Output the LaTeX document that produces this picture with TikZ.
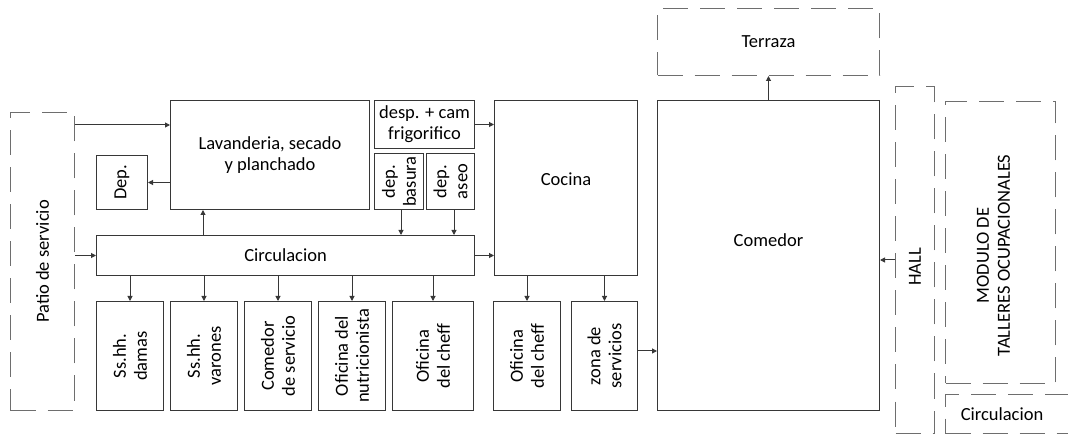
\documentclass[tikz,border=0pt]{standalone}
\usepackage{fontspec}
\setmainfont{Carlito}
\usepackage{tikz}
\usetikzlibrary{arrows.meta, positioning}
\definecolor{linecolor}{RGB}{55,55,55}
\definecolor{dashcolor}{RGB}{110,110,110}
\newcommand{\roomfont}{\fontsize{18.5}{21}\selectfont}
\tikzset{
  room/.style={draw=linecolor, line width=1pt, anchor=north west,
               inner sep=0pt, align=center, font=\roomfont},
  zone/.style={room, draw=dashcolor, dash pattern=on 25pt off 12pt},
  vtext/.style={rotate=90, align=center, font=\roomfont},
  htext/.style={align=center, font=\roomfont},
  arrow/.style={-{Triangle[length=5pt,width=5pt]}, line width=1pt,
                draw=linecolor},
}

\begin{document}
\begin{tikzpicture}[x=1pt, y=-1pt]
  \useasboundingbox (0,0) rectangle (1068,435);

  % --- Service side ---
  \node[zone, minimum width=64pt, minimum height=298pt,
        label={[vtext]center:Patio de servicio}]
    (patio) at (10,112) {};
  \node[room, minimum width=199pt, minimum height=109pt]
    (lav) at (170,100) {Lavanderia, secado\\y planchado};
  \node[room, minimum width=51pt, minimum height=54pt,
        label={[vtext]center:Dep.}]
    (dep) at (96,155) {};
  \node[room, minimum width=378pt, minimum height=40pt]
    (circ) at (96,235) {Circulacion};

  % --- Deposits ---
  \node[room, minimum width=100pt, minimum height=48pt]
    (desp) at (374,100) {desp. + cam\\frigorifico};
  \node[room, minimum width=49pt, minimum height=56pt,
        label={[vtext]center:dep.\\basura}]
    (basura) at (374,153) {};
  \node[room, minimum width=48pt, minimum height=56pt,
        label={[vtext]center:dep.\\aseo}]
    (aseo) at (426,153) {};

  % --- Bottom row ---
  \node[room, minimum width=67pt, minimum height=109pt,
        label={[vtext]center:Ss.hh.\\damas}]
    (damas) at (96,301) {};
  \node[room, minimum width=67pt, minimum height=109pt,
        label={[vtext]center:Ss.hh.\\varones}]
    (varones) at (170,301) {};
  \node[room, minimum width=67pt, minimum height=109pt,
        label={[vtext]center:Comedor\\de servicio}]
    (comserv) at (244,301) {};
  \node[room, minimum width=67pt, minimum height=109pt,
        label={[vtext]center:Oficina del\\nutricionista}]
    (nutri) at (318,301) {};
  \node[room, minimum width=81pt, minimum height=109pt,
        label={[vtext]center:Oficina\\del cheff}]
    (cheff) at (392,301) {};

  % --- Kitchen ---
  \node[room, minimum width=143pt, minimum height=175pt,
        label={[htext, yshift=9pt]center:Cocina}]
    (cocina) at (494,100) {};
  \node[room, minimum width=67pt, minimum height=109pt,
        label={[vtext]center:Oficina\\del cheff}]
    (cheffb) at (493,301) {};
  \node[room, minimum width=66pt, minimum height=109pt,
        label={[vtext]center:zona de\\servicios}]
    (zona) at (571,301) {};

  % --- Dining ---
  \node[room, minimum width=222pt, minimum height=310pt,
        label={[htext, yshift=15pt]center:Comedor}]
    (comedor) at (657,100) {};
  \node[zone, minimum width=222pt, minimum height=67pt]
    (terraza) at (657,8) {Terraza};

  % --- Right side ---
  \node[zone, minimum width=39pt, minimum height=347pt,
        label={[vtext, xshift=-7pt]center:HALL}]
    (hall) at (895,86) {};
  \node[zone, minimum width=110pt, minimum height=282pt,
        label={[vtext, xshift=-13pt, yshift=7pt]center:MODULO DE\\TALLERES OCUPACIONALES}]
    (talleres) at (945,101) {};
  \node[zone, minimum width=135pt, minimum height=39pt,
        label={[htext, xshift=-11pt]center:Circulacion}]
    (circb) at (945,394) {};

  % --- Arrows ---
  \draw[arrow] (patio.east |- 0,125) -- (lav.west |- 0,125);
  \draw[arrow] (patio.east |- circ.west) -- (circ.west);
  \draw[arrow] (lav.west |- dep.east) -- (dep.east);
  \draw[arrow] (circ.north -| 203,0) -- (lav.south -| 203,0);
  \draw[arrow] (basura.south -| 401,0) -- (circ.north -| 401,0);
  \draw[arrow] (aseo.south -| 454,0) -- (circ.north -| 454,0);
  \draw[arrow] (desp.east) -- (cocina.west |- desp.east);
  \draw[arrow] (circ.east) -- (cocina.west |- circ.east);

  \draw[arrow] (circ.south -| damas.north) -- (damas.north);
  \draw[arrow] (circ.south -| varones.north) -- (varones.north);
  \draw[arrow] (circ.south -| comserv.north) -- (comserv.north);
  \draw[arrow] (circ.south -| nutri.north) -- (nutri.north);
  \draw[arrow] (circ.south -| cheff.north) -- (cheff.north);
  \draw[arrow] (cocina.south -| cheffb.north) -- (cheffb.north);
  \draw[arrow] (cocina.south -| zona.north) -- (zona.north);

  \draw[arrow] (zona.east |- 0,351) -- (comedor.west |- 0,351);
  \draw[arrow] (comedor.north) -- (terraza.south);
  \draw[arrow] (hall.west) -- (comedor.east |- hall.west);

\end{tikzpicture}
\end{document}
